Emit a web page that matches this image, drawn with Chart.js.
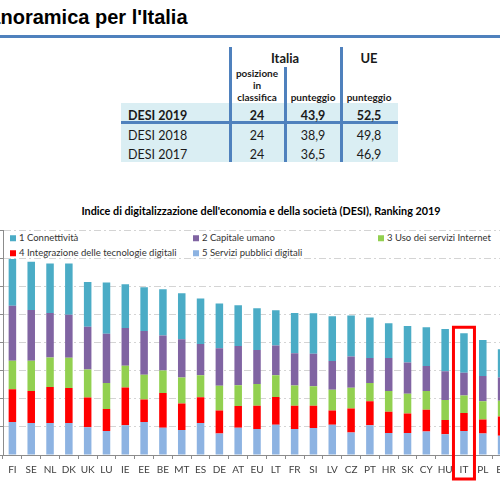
<!DOCTYPE html>
<html>
<head>
<meta charset="utf-8">
<script src="https://cdn.jsdelivr.net/npm/chart.js@4"></script>
<style>
  html, body { margin: 0; padding: 0; width: 500px; height: 500px; overflow: hidden; background: #fff; }
  body { position: relative; font-family: Lato, "Open Sans", sans-serif; color: #1a1a1a; }
  .abs { position: absolute; white-space: nowrap; line-height: 1; }
  .c { transform: translate(-50%, -50%); }
  .l { transform: translate(0, -50%); }
  #heading { left: -24px; top: 6px; font: bold 20px "Liberation Sans", Arial, sans-serif; color: #000; }
  .line { position: absolute; background: #4f81bd; }
  #tableBg { position: absolute; left: 121px; top: 103px; width: 277px; height: 59px; background: #daeef3; }
  #chartTitle { left: 261px; top: 211px; font-weight: bold; font-size: 10.8px; color: #000; }
  .leg { position: absolute; font-size: 9.5px; line-height: 1; color: #333; white-space: nowrap; transform: translate(0, -50%); }
  .leg i { display: inline-block; width: 6px; height: 6px; margin-right: 3px; vertical-align: 0; }
  #chartBox { position: absolute; left: -40px; top: 220px; }
</style>
</head>
<body>
<div id="heading" class="abs">Panoramica per l'Italia</div>
<div class="line" style="left:0;top:35px;width:500px;height:3px;"></div>

<div id="tableBg"></div>
<div id="table"></div>

<div id="chartTitle" class="abs c">Indice di digitalizzazione dell'economia e della società (DESI), Ranking 2019</div>
<div id="legend"></div>

<canvas id="chartBox" width="560" height="280"></canvas>

<script>
// tabella
const tableRows = ["DESI 2019", "DESI 2018", "DESI 2017"];
const posizioneIT = ["24", "24", "24"];
const punteggioIT = ["43,9", "38,9", "36,5"];
const punteggioUE = ["52,5", "49,8", "46,9"];

// grafico DESI 2019
const countries = ["FI", "SE", "NL", "DK", "UK", "LU", "IE", "EE", "BE", "MT", "ES", "DE", "AT", "EU",
  "LT", "FR", "SI", "LV", "CZ", "PT", "HR", "SK", "CY", "HU", "IT", "PL", "EL"];
const connettivita = [16.7, 17.2, 17.7, 18.3, 16.0, 18.3, 15.6, 15.6, 16.5, 16.4, 16.2, 15.9, 14.5, 14.9,
  12.6, 14.3, 14.4, 16.0, 14.6, 14.4, 12.4, 13.0, 13.8, 15.0, 14.1, 12.8, 10.1];
const capitaleUmano = [19.6, 18.1, 15.8, 15.3, 15.2, 17.5, 13.5, 15.6, 12.5, 13.7, 11.2, 13.4, 14.0, 12.1,
  10.6, 11.5, 11.6, 10.2, 11.1, 8.9, 11.8, 11.2, 8.9, 10.3, 8.1, 9.0, 8.3];
const usoInternet = [10.2, 10.8, 10.6, 10.8, 10.0, 9.3, 7.7, 8.8, 8.0, 9.2, 7.8, 8.8, 7.4, 7.7,
  7.7, 7.2, 6.9, 7.4, 7.4, 6.5, 7.4, 7.0, 6.7, 7.1, 6.2, 6.5, 5.6];
const integrazione = [11.6, 11.4, 12.8, 12.5, 10.6, 7.8, 13.5, 8.0, 12.4, 9.5, 9.2, 8.2, 7.8, 8.3,
  9.9, 8.3, 8.0, 5.1, 8.6, 8.6, 7.6, 7.0, 7.7, 5.1, 6.4, 5.0, 6.8];
const serviziPubblici = [11.8, 11.4, 11.4, 11.4, 9.9, 8.6, 10.6, 11.8, 9.7, 8.9, 11.4, 7.7, 9.7, 9.3,
  10.8, 9.3, 9.6, 10.8, 8.0, 10.6, 7.8, 7.8, 8.4, 7.4, 8.6, 7.7, 6.9];
const highlight = "IT";

function addText(parent, text, x, y, opts) {
  const d = document.createElement("div");
  d.className = "abs " + (opts.align === "left" ? "l" : "c");
  d.style.left = x + "px";
  d.style.top = y + "px";
  d.style.fontSize = (opts.size || 12) + "px";
  d.style.fontWeight = opts.bold ? "bold" : "normal";
  d.textContent = text;
  parent.appendChild(d);
}

const table = document.getElementById("table");
// linee della tabella
[[229, 47, 3, 115], [340, 47, 3, 115], [284, 67, 3, 95], [121, 121, 277, 3]].forEach(([x, y, w, h]) => {
  const d = document.createElement("div");
  d.className = "line";
  d.style.cssText = `left:${x}px;top:${y}px;width:${w}px;height:${h}px;`;
  table.appendChild(d);
});
addText(table, "Italia", 285, 58, { bold: true, size: 13 });
addText(table, "UE", 369, 58, { bold: true, size: 13 });
addText(table, "posizione", 257, 73, { bold: true, size: 10 });
addText(table, "in", 257, 85, { bold: true, size: 10 });
addText(table, "classifica", 257, 97, { bold: true, size: 10 });
addText(table, "punteggio", 313, 97, { bold: true, size: 10 });
addText(table, "punteggio", 369, 97, { bold: true, size: 10 });
const rowY = [116, 136, 155];
tableRows.forEach((label, i) => {
  const b = i === 0;
  addText(table, label, 128, rowY[i], { bold: b, size: 12.5, align: "left" });
  addText(table, posizioneIT[i], 257, rowY[i], { bold: b, size: 12.5 });
  addText(table, punteggioIT[i], 313, rowY[i], { bold: b, size: 12.5 });
  addText(table, punteggioUE[i], 369, rowY[i], { bold: b, size: 12.5 });
});

const colors = {
  c1: "#4bacc6",
  c2: "#8064a2",
  c3: "#92d050",
  c4: "#ff0000",
  c5: "#8db3e2",
};

// legenda come nel foglio Excel
const legendItems = [
  ["1 Connettività", colors.c1, 10, 238],
  ["2 Capitale umano", colors.c2, 193, 238],
  ["3 Uso dei servizi Internet", colors.c3, 378, 238],
  ["4 Integrazione delle tecnologie digitali", colors.c4, 10, 253],
  ["5 Servizi pubblici digitali", colors.c5, 193, 253],
];
const legend = document.getElementById("legend");
legendItems.forEach(([label, color, x, y]) => {
  const d = document.createElement("div");
  d.className = "leg";
  d.style.left = x + "px";
  d.style.top = y + "px";
  d.innerHTML = `<i style="background:${color}"></i>${label}`;
  legend.appendChild(d);
});

const boxPlugin = {
  id: "boxIT",
  afterDraw(chart) {
    const i = countries.indexOf(highlight);
    const xs = chart.scales.x, ys = chart.scales.y;
    const total = connettivita[i] + capitaleUmano[i] + usoInternet[i] + integrazione[i] + serviziPubblici[i];
    const cx = xs.getPixelForValue(i);
    const top = ys.getPixelForValue(total) - 6;
    const bottom = chart.chartArea.bottom + 24;
    const ctx = chart.ctx;
    ctx.save();
    ctx.strokeStyle = "#ff0000";
    ctx.lineWidth = 3;
    ctx.strokeRect(cx - 10.5, top, 21, bottom - top);
    ctx.restore();
  },
};

const ctx = document.getElementById("chartBox").getContext("2d");
const myChart = new Chart(ctx, {
  type: "bar",
  data: {
    labels: countries,
    datasets: [
      { label: "5 Servizi pubblici digitali", data: serviziPubblici, backgroundColor: colors.c5 },
      { label: "4 Integrazione delle tecnologie digitali", data: integrazione, backgroundColor: colors.c4 },
      { label: "3 Uso dei servizi Internet", data: usoInternet, backgroundColor: colors.c3 },
      { label: "2 Capitale umano", data: capitaleUmano, backgroundColor: colors.c2 },
      { label: "1 Connettività", data: connettivita, backgroundColor: colors.c1 },
    ],
  },
  options: {
    responsive: false,
    animation: false,
    datasets: { bar: { categoryPercentage: 1, barPercentage: 0.4, borderWidth: 0 } },
    layout: { padding: { top: 10.6, right: 9, left: 0, bottom: 0 } },
    plugins: {
      legend: { display: false },
      title: { display: false },
      tooltip: { enabled: false },
    },
    scales: {
      x: {
        stacked: true,
        grid: { drawOnChartArea: false, drawTicks: true, tickLength: 4, color: "#8c8c8c" },
        border: { color: "#8c8c8c" },
        ticks: { color: "#404040", font: { family: "Lato", size: 10 }, padding: 5, maxRotation: 0, autoSkip: false },
        afterFit: (s) => { s.height = 45; },
      },
      y: {
        stacked: true,
        min: 0,
        max: 80,
        ticks: { stepSize: 10, display: false },
        grid: { color: "#d4d4d4", tickColor: "#8c8c8c", tickLength: 4 },
        border: { color: "#8c8c8c", dash: [7, 3, 2, 3] },
        afterFit: (s) => { s.width = 43; },
      },
    },
  },
  plugins: [boxPlugin],
});
</script>
</body>
</html>
